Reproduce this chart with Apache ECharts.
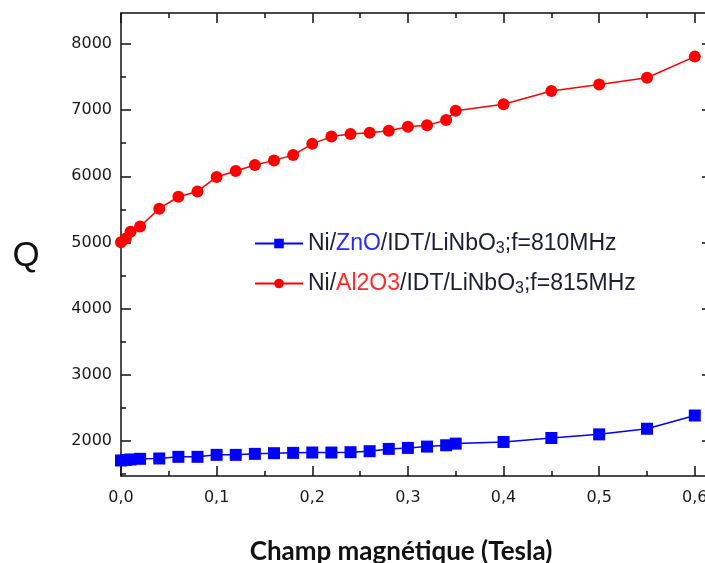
<!DOCTYPE html>
<html><head><meta charset="utf-8">
<script src="https://cdn.jsdelivr.net/npm/echarts@6/dist/echarts.min.js"></script>
<style>html,body{margin:0;padding:0;background:#fff}#c{width:705px;height:563px}</style>
</head><body><div id="c"></div>
<script>
// Data
const fieldTesla = [0, 0.005, 0.01, 0.02, 0.04, 0.06, 0.08, 0.10, 0.12, 0.14, 0.16, 0.18, 0.20, 0.22, 0.24, 0.26, 0.28, 0.30, 0.32, 0.34, 0.35, 0.40, 0.45, 0.50, 0.55, 0.60];
const qZnO = [1700, 1708, 1715, 1725, 1730, 1755, 1755, 1785, 1785, 1800, 1810, 1815, 1820, 1820, 1825, 1840, 1875, 1890, 1910, 1930, 1955, 1980, 2040, 2095, 2180, 2380];
const qAl2O3 = [5000, 5060, 5160, 5240, 5510, 5690, 5770, 5990, 6080, 6170, 6240, 6320, 6490, 6600, 6640, 6660, 6690, 6750, 6770, 6850, 6990, 7090, 7290, 7390, 7490, 7810];
const seriesNames = ['Ni/ZnO/IDT/LiNbO3;f=810MHz', 'Ni/Al2O3/IDT/LiNbO3;f=815MHz'];
const xMajorTicks = [0, 0.1, 0.2, 0.3, 0.4, 0.5, 0.6];
const xMinorTicks = [0.05, 0.15, 0.25, 0.35, 0.45, 0.55];
const yMajorTicks = [2000, 3000, 4000, 5000, 6000, 7000, 8000];
const yMinorTicks = [1500, 2500, 3500, 4500, 5500, 6500, 7500];

const X_MIN = 0, X_MAX = 0.618, Y_MIN = 1465, Y_MAX = 8470;
const lineCol = '#111';
const lblFont = {fontFamily: 'DejaVu Sans', fontSize: 16, color: '#1a1a1a'};

function xAx(pos, ticks, len, showLine, labels) {
  return {
    type: 'value', position: pos, min: X_MIN, max: X_MAX,
    axisLine: {show: showLine, onZero: false, lineStyle: {color: lineCol, width: 1.5}},
    axisTick: {show: true, inside: true, length: len, customValues: ticks, lineStyle: {color: lineCol, width: 1.5}},
    axisLabel: labels ? Object.assign({show: true, customValues: ticks, margin: 14,
      formatter: v => v.toFixed(1).replace('.', ',')}, lblFont) : {show: false},
    splitLine: {show: false}
  };
}
function yAx(pos, ticks, len, showLine, labels) {
  return {
    type: 'value', position: pos, min: Y_MIN, max: Y_MAX,
    axisLine: {show: showLine, onZero: false, lineStyle: {color: lineCol, width: 1.5}},
    axisTick: {show: true, inside: true, length: len, customValues: ticks, lineStyle: {color: lineCol, width: 1.5}},
    axisLabel: labels ? Object.assign({show: true, customValues: ticks, margin: 9,
      formatter: v => String(Math.round(v))}, lblFont) : {show: false},
    splitLine: {show: false}
  };
}

const chart = echarts.init(document.getElementById('c'), null, {renderer: 'canvas'});
const rich = {
  a: {fontFamily: 'Liberation Sans', fontSize: 23, color: '#1e1e32', lineHeight: 26},
  z: {fontFamily: 'Liberation Sans', fontSize: 23, color: '#2a2aff', lineHeight: 26},
  r: {fontFamily: 'Liberation Sans', fontSize: 23, color: '#ff2a2a', lineHeight: 26},
  s: {fontFamily: 'Liberation Sans', fontSize: 16, color: '#1e1e32', lineHeight: 8, verticalAlign: 'bottom'}
};
chart.setOption({
  animation: false,
  backgroundColor: '#fff',
  grid: {left: 121, top: 13, width: 591, height: 463, containLabel: false, outerBoundsMode: 'none'},
  xAxis: [
    xAx('bottom', xMajorTicks, 10, true, true),
    xAx('bottom', xMinorTicks, 5, false, false),
    xAx('top', xMajorTicks, 10, true, false),
    xAx('top', xMinorTicks, 5, false, false)
  ],
  yAxis: [
    yAx('left', yMajorTicks, 10, true, true),
    yAx('left', yMinorTicks, 5, false, false),
    yAx('right', yMajorTicks, 10, true, false),
    yAx('right', yMinorTicks, 5, false, false)
  ],
  legend: {
    orient: 'vertical', left: 249, top: 227, itemWidth: 48, itemHeight: 12, itemGap: 15.5,
    data: seriesNames,
    textStyle: {fontFamily: 'Liberation Sans', fontSize: 23, color: '#1e1e32', rich: rich},
    formatter: function (name) {
      if (name === seriesNames[0]) return '{a|Ni/}{z|ZnO}{a|/IDT/LiNbO}{s|3}{a|;f=810MHz}';
      return '{a|Ni/}{r|Al2O3}{a|/IDT/LiNbO}{s|3}{a|;f=815MHz}';
    }
  },
  series: [
    {
      name: seriesNames[0], type: 'line', xAxisIndex: 0, yAxisIndex: 0,
      data: fieldTesla.map((x, i) => [x, qZnO[i]]),
      symbol: 'rect', symbolSize: 12, showAllSymbol: true,
      lineStyle: {color: '#0000ff', width: 1.5}, itemStyle: {color: '#0000ff'}
    },
    {
      name: seriesNames[1], type: 'line', xAxisIndex: 0, yAxisIndex: 0,
      data: fieldTesla.map((x, i) => [x, qAl2O3[i]]),
      symbol: 'circle', symbolSize: 12, showAllSymbol: true,
      lineStyle: {color: '#ff0000', width: 1.5}, itemStyle: {color: '#ff0000'}
    }
  ],
  graphic: [
    {type: 'text', x: 26, y: 256, style: {text: 'Q', fontFamily: 'Liberation Sans', fontSize: 35, fill: '#111', align: 'center', verticalAlign: 'middle'}},
    {type: 'text', x: 401, y: 552, style: {text: 'Champ magnétique (Tesla)', fontFamily: 'Lato', fontWeight: 'bold', fontSize: 26, fill: '#111', align: 'center', verticalAlign: 'middle'}}
  ]
});
</script>
</body></html>
